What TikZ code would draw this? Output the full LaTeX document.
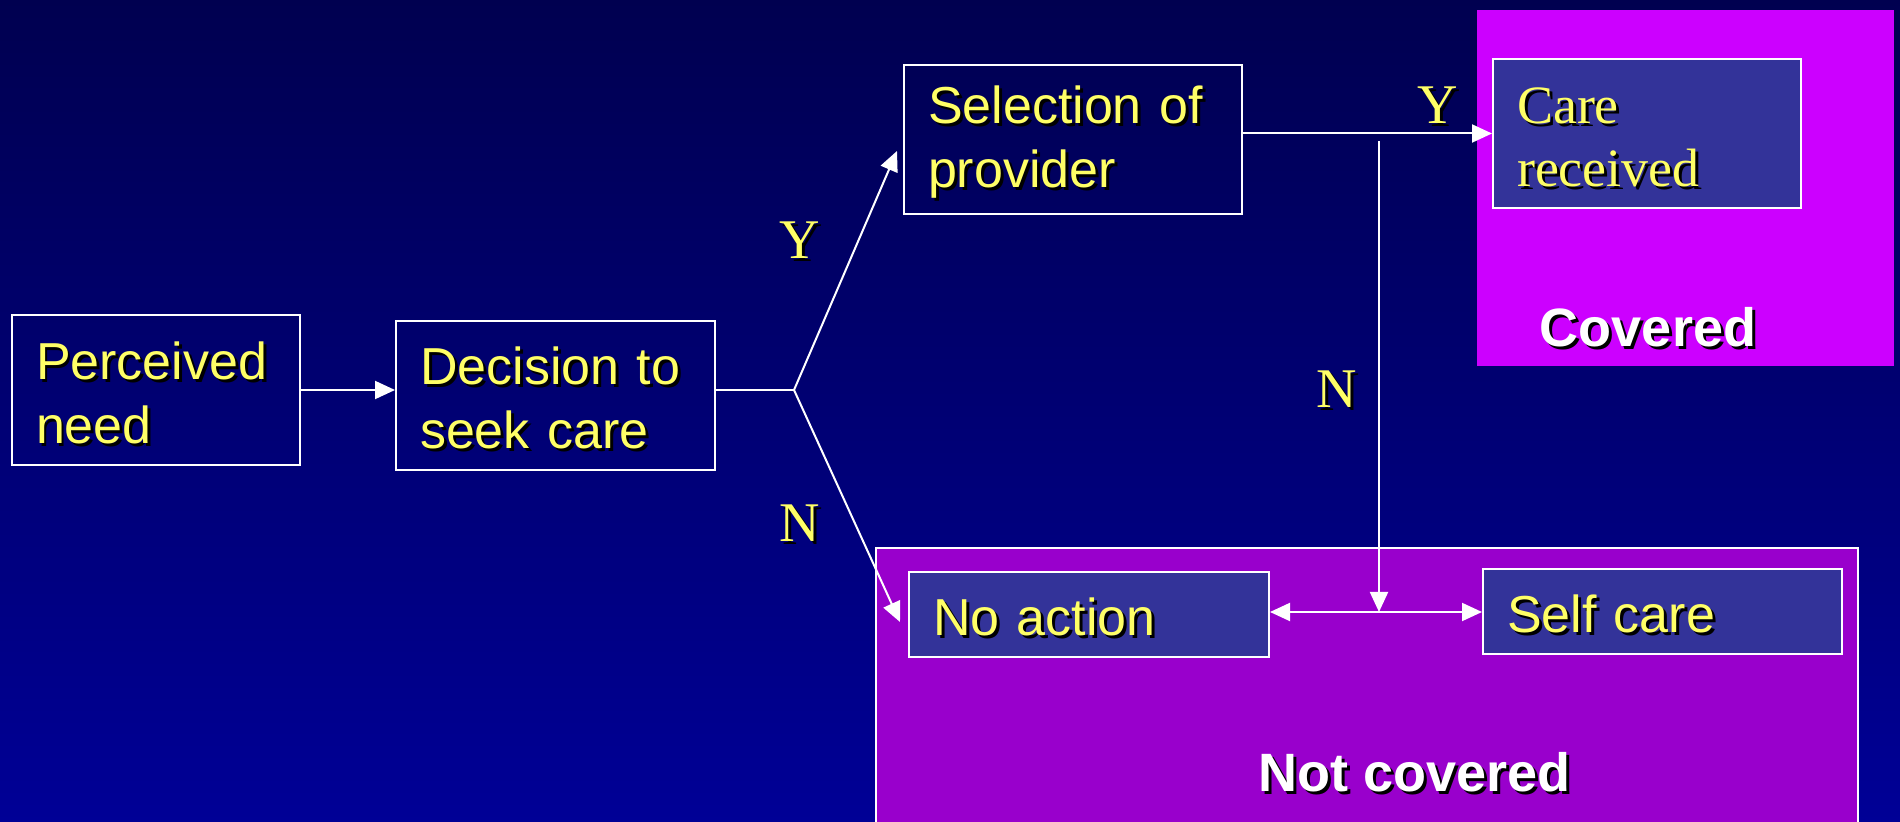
\documentclass[tikz,border=0pt]{standalone}
\usepackage{fontspec}
\setmainfont{Liberation Sans}
\newfontfamily\timesfnt{Liberation Serif}
\usetikzlibrary{arrows.meta}
\definecolor{bgtop}{RGB}{0,0,80}
\definecolor{bgbot}{RGB}{0,0,150}
\definecolor{txtyellow}{RGB}{255,255,102}
\definecolor{boxfill}{RGB}{51,51,153}
\definecolor{covmag}{RGB}{204,0,255}
\definecolor{notcov}{RGB}{153,0,204}
% texte avec ombre portee
\newcommand{\shd}[1]{\makebox[0pt][l]{\hspace{1.5pt}\raisebox{-1.5pt}{\color{black}#1}}#1}
\tikzset{
  stage/.style={draw=white, line width=1pt, rectangle, inner xsep=12pt, align=left,
    text=txtyellow, font=\fontsize{26}{32}\selectfont,
    execute at begin node={\rule{0pt}{23pt}}},
  yn/.style={text=txtyellow, font=\timesfnt\fontsize{28}{30}\selectfont},
  zone/.style={text=white, font=\bfseries\fontsize{27}{30}\selectfont},
  flow/.style={draw=white, line width=1pt, -{Triangle[length=10pt,width=9pt]}}
}
\begin{document}
\begin{tikzpicture}[x=0.5pt, y=-0.5pt]
        \useasboundingbox (0,0) rectangle (1900,822);
        \clip (0,0) rectangle (1900,822);
        % Fond degrade
        \shade [top color=bgtop, bottom color=bgbot] (0,0) rectangle (1900,822);
        
        % Zones (couvert / non couvert)
        \fill [covmag] (1477,10) rectangle (1894,366);
        \draw [fill=notcov, draw=white, line width=1pt] (876,548) rectangle (1858,840);
        \node [zone] (cov) at (1648,329) {\shd{Covered}};
        \node [zone] (ncov) at (1415,774) {\shd{Not covered}};
        
        % Etapes
        \node [stage, text width=120pt, minimum height=75pt] (perc) at (156,390) {\shd{Perceived}\\\shd{need}};
        \node [stage, text width=135.5pt, minimum height=74.5pt] (dec) at (555.5,395.5) {\shd{Decision to}\\\shd{seek care}};
        \node [stage, text width=145pt, minimum height=74.5pt] (sel) at (1073,139.5) {\shd{Selection of}\\\shd{provider}};
        \node [stage, fill=boxfill, text width=130pt, minimum height=74.5pt, font=\timesfnt\fontsize{27}{31.5}\selectfont] (care) at (1647,133.5) {\shd{Care}\\\shd{received}};
        \node [stage, fill=boxfill, text width=156pt, minimum height=42.5pt] (noact) at (1089,614.5) {\shd{No action}};
        \node [stage, fill=boxfill, text width=155.5pt, minimum height=42.5pt] (self) at (1662.5,611.5) {\shd{Self care}};
        
        % Points de branchement
        \coordinate (br) at (794,390);
        \coordinate (ytip) at (897,151);
        \coordinate (ntip) at (900,622);
        \coordinate (jn) at (1379,141);
        \coordinate (mid) at (1379,612);
        
        % Connecteurs
        \draw [flow] (perc.east) -- (perc.east -| dec.west);
        \draw [draw=white, line width=1pt] (dec.east |- br) -- (br);
        \draw [flow] (br) -- (ytip);
        \draw [flow] (br) -- (ntip);
        \draw [flow] (sel.east |- care.west) -- (care.west);
        \draw [flow] (jn) -- (mid);
        \draw [flow, {Triangle[length=10pt,width=9pt]}-{Triangle[length=10pt,width=9pt]}] (noact.east |- mid) -- (self.west |- mid);
        
        % Labels Y / N
        \node [yn] (y1) at (800,242) {\shd{Y}};
        \node [yn] (n1) at (800,525) {\shd{N}};
        \node [yn] (y2) at (1438,107) {\shd{Y}};
        \node [yn] (n2) at (1337,391) {\shd{N}};
\end{tikzpicture}
\end{document}
